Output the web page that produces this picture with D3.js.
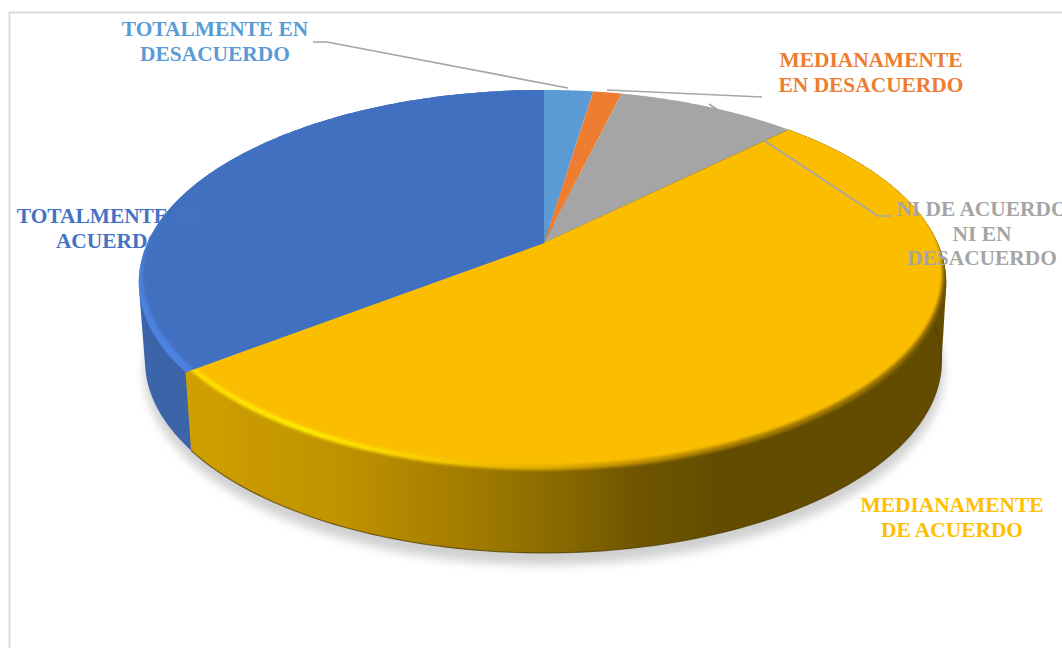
<!DOCTYPE html>
<html><head><meta charset="utf-8">
<script src="https://cdn.jsdelivr.net/npm/d3@7"></script>
<style>html,body{margin:0;padding:0;background:#fff;overflow:hidden}svg{display:block}</style>
</head><body><svg id="c" width="1062" height="648"></svg>
<script>
const categories = ["TOTALMENTE EN DESACUERDO","MEDIANAMENTE EN DESACUERDO","NI DE ACUERDO NI EN DESACUERDO","MEDIANAMENTE DE ACUERDO","TOTALMENTE DE ACUERDO"];
const values = [2.4, 1.4, 8.8, 51.9, 35.5];
const colors = ["#5b9bd5","#ed7d31","#a5a5a5","#fbbd00","#4270c0"];
const textColors = ["#5b9bd5","#ed7d31","#a5a5a5","#ffc000","#4472c4"];
const labelLines = [["TOTALMENTE EN","DESACUERDO"],["MEDIANAMENTE","EN DESACUERDO"],["NI DE ACUERDO","NI EN","DESACUERDO"],["MEDIANAMENTE","DE ACUERDO"],["TOTALMENTE DE","ACUERDO"]];
const labelX = [215, 871, 982, 952, 110];
const labelY = [36, 67, 216, 512, 223];
const leaders = [[[313,42],[327,42],[568,88]],[[607,90],[762,97]],[[709,104],[878,216],[891,216]]];

const svg = d3.select("#c");
const defs = svg.append("defs");
const k = -0.205;
const top_ = {cx:544, cy:243, A:184.4, BL:396.6, BR:393.7};
const bot_ = {cx:544, cy:321.5, A:184, BL:390.5, BR:389};
const project = (p, a) => {
  const x = Math.sin(a), y = -Math.cos(a), d = 1 + k*y;
  return [p.cx + (x<0?p.BL:p.BR)*x/d, p.cy + p.A*y/d];
};
const arcPts = (p, a0, a1) => d3.range(0, 121).map(i => project(p, a0 + (a1-a0)*i/120));
const line = d3.line();
const pie = d3.pie().sort(null).value(d => d);
const slices = pie(values);

function blur(id, s){ defs.append("filter").attr("id",id).attr("x","-20%").attr("y","-20%").attr("width","140%").attr("height","140%")
  .append("feGaussianBlur").attr("stdDeviation",s); }
blur("b15",1.7); blur("b5",5); blur("b1",0.7);

function grad(id, stops){
  const g = defs.append("linearGradient").attr("id",id).attr("gradientUnits","userSpaceOnUse")
    .attr("x1",139).attr("x2",946).attr("y1",0).attr("y2",0);
  stops.forEach(s => g.append("stop").attr("offset",s[0]).attr("stop-color",s[1]));
}
const wallStops = [[0,"#d8a800"],[0.06,"#d0a000"],[0.25,"#bf9200"],[0.42,"#a07a00"],[0.53,"#866700"],[0.62,"#6f5500"],[0.72,"#634c00"],[1,"#634c00"]];
grad("wallGold",wallStops);
grad("bevelGold",[[0,"#ffd400"],[0.08,"#ffe000"],[0.2,"#ffee00"],[0.3,"#ffdc00"],[0.45,"#eeb800"],[0.6,"#c89600"],[0.75,"#a67d00"],[1,"#8a6800"]]);

// frame
svg.append("rect").attr("x",9.5).attr("y",12.5).attr("width",1100).attr("height",700)
  .attr("fill","none").attr("stroke","#dcdcdc").attr("stroke-width",2);

// shadow
svg.append("ellipse").attr("cx",544).attr("cy",371).attr("rx",400).attr("ry",194)
  .attr("fill","#d0d0d0").attr("filter","url(#b5)");

// side walls: convex hull of each slice's top and bottom rims
const wallFill = ["#3c65a9","#3c65a9","#3c65a9","url(#wallGold)","#3c65a9"];
svg.append("g").selectAll("path").data([slices[4],slices[3]]).join("path")
  .attr("d", s => line(d3.polygonHull(arcPts(top_, s.startAngle, s.endAngle).concat(arcPts(bot_, s.startAngle, s.endAngle)))) + "Z")
  .attr("fill", s => wallFill[s.index]);
// dark foot of the wall
svg.append("path").datum(slices[3])
  .attr("d", s => line(arcPts(bot_, s.startAngle, s.endAngle)))
  .attr("fill","none").attr("stroke","#4f3c00").attr("stroke-width",1.2).attr("stroke-opacity",0.75).attr("filter","url(#b1)");

// top face with a soft bevel towards the rim
const topPath = s => line([[top_.cx,top_.cy]].concat(arcPts(top_, s.startAngle, s.endAngle))) + "Z";
const faces = svg.append("g");
slices.forEach((s,i) => {
  defs.append("clipPath").attr("id","clip"+i).append("path").attr("d",topPath(s));
  const g = faces.append("g").attr("clip-path",`url(#clip${i})`);
  const rim = (cy,rx,fill) => g.append("ellipse").attr("cx",542.5).attr("cy",cy).attr("rx",rx).attr("ry",192.5).attr("fill",fill).attr("filter","url(#b15)");
  if (i===3) {
    g.append("rect").attr("x",130).attr("y",80).attr("width",830).attr("height",410).attr("fill","url(#wallGold)");
    rim(277.5,402,"url(#bevelGold)");
    rim(272.5,400,colors[i]);
  } else if (i===4) {
    g.append("rect").attr("x",130).attr("y",80).attr("width",830).attr("height",410).attr("fill","#4c82e0");
    rim(274.5,400,colors[i]);
  } else {
    g.append("rect").attr("x",130).attr("y",80).attr("width",830).attr("height",410).attr("fill",colors[i]);
  }
});

// leaders
svg.append("g").selectAll("path").data(leaders).join("path")
  .attr("d", d => line(d)).attr("fill","none").attr("stroke","#a6a6a6").attr("stroke-width",1.7);

// labels
const labels = svg.append("g").attr("font-family","'Liberation Serif'").attr("font-weight","bold").attr("font-size",21.4).attr("text-anchor","middle");
labelLines.forEach((ls,i) => {
  const t = labels.append("text").attr("fill",textColors[i]);
  ls.forEach((l,j) => t.append("tspan").attr("x",labelX[i]).attr("y",labelY[i]+j*24.7).text(l));
});
</script></body></html>
